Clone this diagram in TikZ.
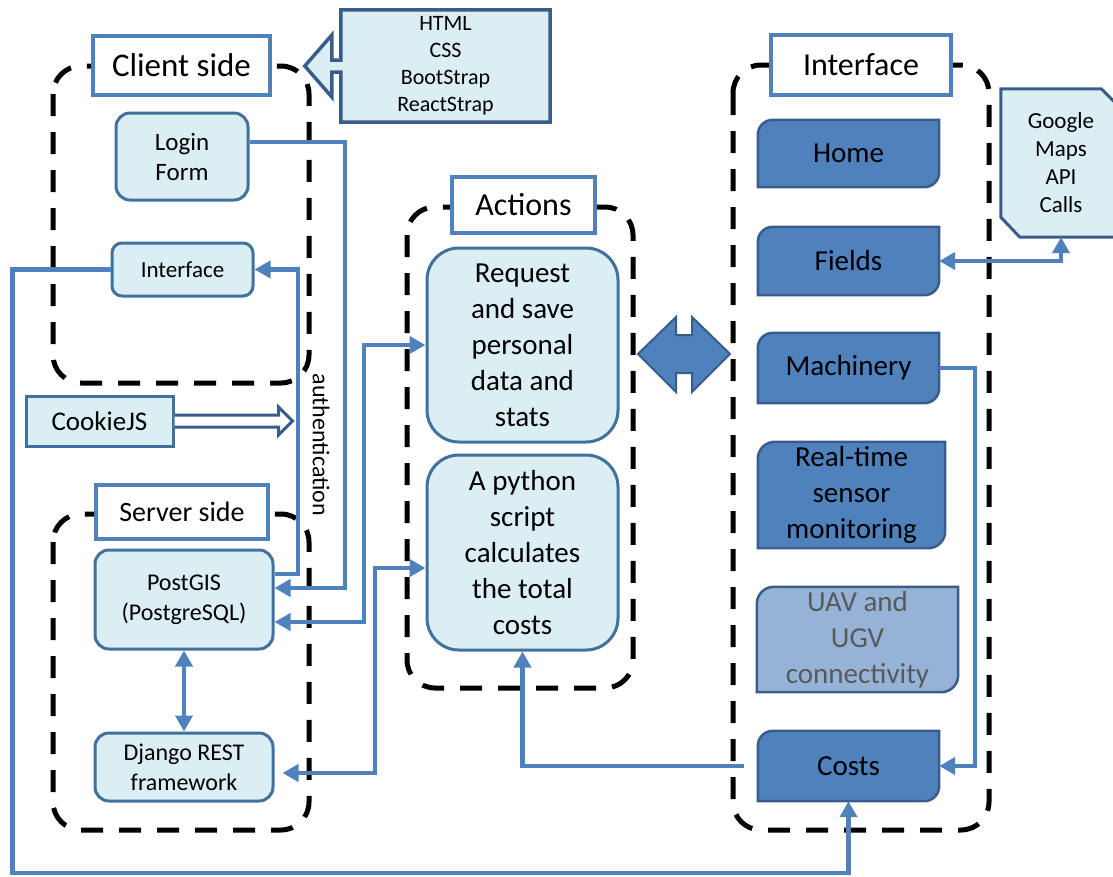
\documentclass[tikz,border=0pt]{standalone}
\usepackage{fontspec}
\setmainfont{Carlito}
\usetikzlibrary{arrows.meta,backgrounds}
\definecolor{lblue}{HTML}{DBEEF4}
\definecolor{mblue}{HTML}{4F81BD}
\definecolor{dblue}{HTML}{41719C}
\definecolor{dkblue}{HTML}{385D8A}
\definecolor{uavfill}{HTML}{95B3D7}
\definecolor{uavtext}{HTML}{595959}
\newcommand\diagshape[3]{%
  \draw[draw=dkblue,line width=2.5pt,fill=#2] ([yshift=-#3]#1.north west) arc[start angle=180,end angle=90,radius=#3] -- (#1.north east) -- ([yshift=#3]#1.south east) arc[start angle=0,end angle=-90,radius=#3] -- (#1.south west) -- cycle;}
\begin{document}
\begin{tikzpicture}[x=1pt,y=1pt,
  container/.style={draw=black,line width=5pt,dash pattern=on 22pt off 16pt,rounded corners=28pt},
  lbl/.style={draw=mblue,line width=3.5pt,fill=white,inner sep=0pt},
  soft/.style={draw=dblue,line width=3pt,fill=lblue,rounded corners=14pt,inner sep=0pt,align=center},
  plain/.style={inner sep=0pt,align=center},
  conn/.style={draw=mblue,line width=4.5pt},
  tip/.tip={Triangle[length=16pt,width=17pt]},
]
\useasboundingbox (0,0) rectangle (1113,-876);

% dashed containers
\draw[container] (53,-66) rectangle (309,-383);
\draw[container] (53,-514) rectangle (309,-830);
\draw[container] (407,-207) rectangle (633,-688);
\draw[container] (733,-65) rectangle (989,-830);

% label boxes
\node[lbl,minimum width=177pt,minimum height=59pt,font=\fontsize{33}{40}\selectfont] (clientlbl) at (181.5,-65.5) {Client side};
\node[lbl,minimum width=172pt,minimum height=54pt,font=\fontsize{28}{34}\selectfont] (serverlbl) at (182,-512) {Server side};
\node[lbl,minimum width=143pt,minimum height=56pt,font=\fontsize{32}{38}\selectfont] (actionslbl) at (523.5,-205) {Actions};
\node[lbl,minimum width=180pt,minimum height=60pt,font=\fontsize{32}{38}\selectfont] (ifacelbl) at (861,-65) {Interface};

% HTML callout
\node[plain,minimum width=209pt,minimum height=112pt,font=\fontsize{22}{27}\selectfont] (html) at (445.5,-66) {HTML\\CSS\\BootStrap\\ReactStrap};

% client side
\node[soft,minimum width=132pt,minimum height=87pt,font=\fontsize{25}{30}\selectfont] (login) at (182,-156.5) {Login\\Form};
\node[soft,minimum width=141pt,minimum height=53pt,rounded corners=10pt,font=\fontsize{23}{28}\selectfont] (iface) at (182.5,-269.5) {Interface};
\node[soft,rounded corners=0pt,minimum width=147pt,minimum height=50pt,font=\fontsize{27}{32}\selectfont] (cookie) at (99.5,-421) {CookieJS};
\node[plain,rotate=-90,font=\fontsize{24}{28}\selectfont] (auth) at (321,-445) {authentication};

% server side
\node[soft,minimum width=178pt,minimum height=99pt,font=\fontsize{24}{30}\selectfont] (postgis) at (184,-599.5) {PostGIS\\(PostgreSQL)};
\node[soft,minimum width=178pt,minimum height=68pt,font=\fontsize{24}{30}\selectfont] (django) at (184,-767) {Django REST\\framework};

% actions
\node[soft,rounded corners=32pt,minimum width=191pt,minimum height=194pt,font=\fontsize{29}{36}\selectfont] (request) at (522.5,-345) {Request\\and save\\personal\\data and\\stats};
\node[soft,rounded corners=32pt,minimum width=191pt,minimum height=195pt,font=\fontsize{29}{36}\selectfont] (python) at (522.5,-552.5) {A python\\script\\calculates\\the total\\costs};

% interface boxes
\node[plain,minimum width=181pt,minimum height=67pt,font=\fontsize{29}{36}\selectfont] (home) at (848.5,-153.5) {Home};
\node[plain,minimum width=181pt,minimum height=68pt,font=\fontsize{29}{36}\selectfont] (fields) at (848.5,-261) {Fields};
\node[plain,minimum width=181pt,minimum height=70pt,font=\fontsize{29}{36}\selectfont] (machinery) at (848.5,-368) {Machinery};
\node[plain,minimum width=187pt,minimum height=106pt,font=\fontsize{29}{36}\selectfont] (realtime) at (851.5,-495) {Real-time\\sensor\\monitoring};
\node[plain,minimum width=201pt,minimum height=105pt,text=uavtext,font=\fontsize{29}{36}\selectfont] (uav) at (857.5,-639.5) {UAV and\\UGV\\connectivity};
\node[plain,minimum width=181pt,minimum height=70pt,font=\fontsize{29}{36}\selectfont] (costs) at (848.5,-766) {Costs};
\node[plain,minimum width=120pt,minimum height=148pt,font=\fontsize{23}{28}\selectfont] (google) at (1061,-163) {Google\\Maps\\API\\Calls};

\begin{pgfonlayer}{background}
  \diagshape{home}{mblue}{15pt}
  \diagshape{fields}{mblue}{15pt}
  \diagshape{machinery}{mblue}{15pt}
  \diagshape{realtime}{mblue}{17pt}
  \diagshape{uav}{uavfill}{17pt}
  \diagshape{costs}{mblue}{15pt}
  \draw[draw=dkblue,line width=3pt,fill=lblue] (google.north west) -- ([xshift=-20pt]google.north east) -- ([yshift=-20pt]google.north east) -- (google.south east) -- ([xshift=19pt]google.south west) -- ([yshift=20pt]google.south west) -- cycle;
  \draw[draw=dkblue,line width=3.5pt,fill=lblue] (html.north west) -- (html.north east) -- (html.south east) -- (html.south west) -- ([yshift=-6pt]html.west) -- ([shift={(-9pt,-6pt)}]html.west) -- ([shift={(-9pt,-31pt)}]html.west) -- ([xshift=-36pt]html.west) -- ([shift={(-9pt,31pt)}]html.west) -- ([shift={(-9pt,6pt)}]html.west) -- ([yshift=6pt]html.west) -- cycle;
\end{pgfonlayer}

% big double arrow
\draw[draw=dkblue,line width=2pt,fill=mblue] (638,-354) -- (676,-317) -- (676,-335) -- (692,-335) -- (692,-317) -- (730,-354) -- (692,-392) -- (692,-373) -- (676,-373) -- (676,-392) -- cycle;

% cookie hollow arrow
\draw[draw=dkblue,line width=3pt,fill=white] ([yshift=6pt]cookie.east) -- ++(104,0) -- ++(0,8) -- ++(14,-14) -- ++(-14,-14) -- ++(0,8) -- ([yshift=-6pt]cookie.east);

% connectors
\draw[conn,-tip] ([yshift=14.5pt]login.east) -- (345,-142) -- (345,-588) -- ([yshift=11.5pt]postgis.east);
\draw[conn,-tip] ([yshift=25.5pt]postgis.east) -- (298,-574) -- (298,-269.5) -- (iface.east);
\draw[conn,tip-tip] ([yshift=-22.5pt]postgis.east) -- (364,-622) -- (364,-345) -- (request.west);
\draw[conn,tip-tip] ([shift={(8pt,-6pt)}]django.east) -- (375,-773) -- (375,-568) -- ([yshift=-15.5pt]python.west);
\draw[conn,tip-tip] (postgis.south) -- (django.north);
\draw[conn,-tip] (iface.west) -- (12.5,-269.5) -- (12.5,-873) -| (costs.south);
\draw[conn,-tip] ([xshift=-14pt]costs.west) -| (python.south);
\draw[conn,-tip] (machinery.east) -- (975,-368) |- (costs.east);
\draw[conn,tip-tip] (fields.east) -| (google.south);
\end{tikzpicture}
\end{document}
